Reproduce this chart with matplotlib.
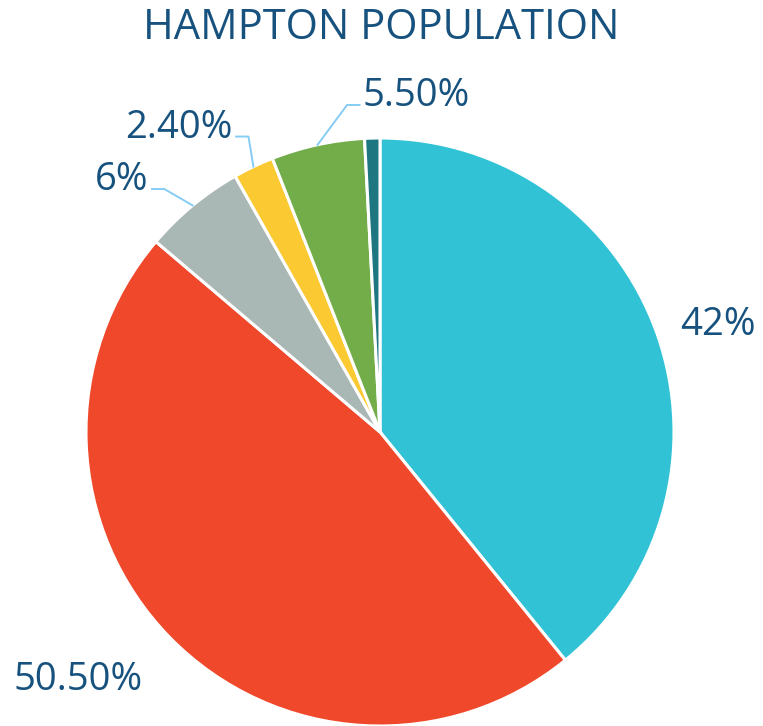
import numpy as np
import matplotlib
matplotlib.use("Agg")
from matplotlib import pyplot as plt

# data
values = [42, 50.5, 6, 2.4, 5.5, 0.9]
labels = ["42%", "50.50%", "6%", "2.40%", "5.50%", ""]
colors = ["#31C3D5", "#EF482B", "#A9B8B5", "#FBC932", "#72AD4A", "#1D7680"]

plt.rcParams['font.family'] = ['Open Sans', 'DejaVu Sans']
TXT = "#17527F"
LEAD = "#86CCF5"

W, H = 763, 726
fig = plt.figure(figsize=(W / 100, H / 100), dpi=100)

# pie center / radius in pixels
cx, cy, R = 380, 432, 294
ax = fig.add_axes([(cx - R) / W, (H - cy - R) / H, 2 * R / W, 2 * R / H])

wedges, _ = ax.pie(values, colors=colors, startangle=90, counterclock=False,
                   radius=1, wedgeprops=dict(edgecolor='white', linewidth=2.2))
ax.set_xlim(-1, 1)
ax.set_ylim(-1, 1)
ax.axis('off')
for w in wedges:
    w.set_clip_on(False)

fs = 27.5
# leader elbow: (angle shift in degrees, radius)
elbow = {2: (2, 1.105), 3: (-1.5, 1.1), 4: (-6.5, 1.118)}
for i, w in enumerate(wedges):
    if not labels[i]:
        continue
    mid = np.deg2rad((w.theta1 + w.theta2) / 2)
    c, s = np.cos(mid), np.sin(mid)
    if i == 0:
        ax.text(1.15, 0.364, labels[i], fontsize=fs, color=TXT,
                ha='center', va='center', clip_on=False)
    elif i == 1:
        ax.text(-1.027, -0.843, labels[i], fontsize=fs, color=TXT,
                ha='center', va='center', clip_on=False)
    else:
        sh, r = elbow[i]
        ex, ey = r * np.cos(mid + np.deg2rad(sh)), r * np.sin(mid + np.deg2rad(sh))
        d = 1 if i == 4 else -1
        hx = ex + d * 0.042
        ax.plot([c, ex, hx], [s, ey, ey], color=LEAD, lw=1.4, clip_on=False)
        ax.text(hx + d * 0.012, ey + 0.03, labels[i], fontsize=fs, color=TXT,
                ha='left' if d > 0 else 'right', va='center', clip_on=False)

fig.text(0.5, 1 - 28 / H, "HAMPTON POPULATION", fontsize=30, color=TXT,
         ha='center', va='center')

fig.savefig("out.png", dpi=100)
